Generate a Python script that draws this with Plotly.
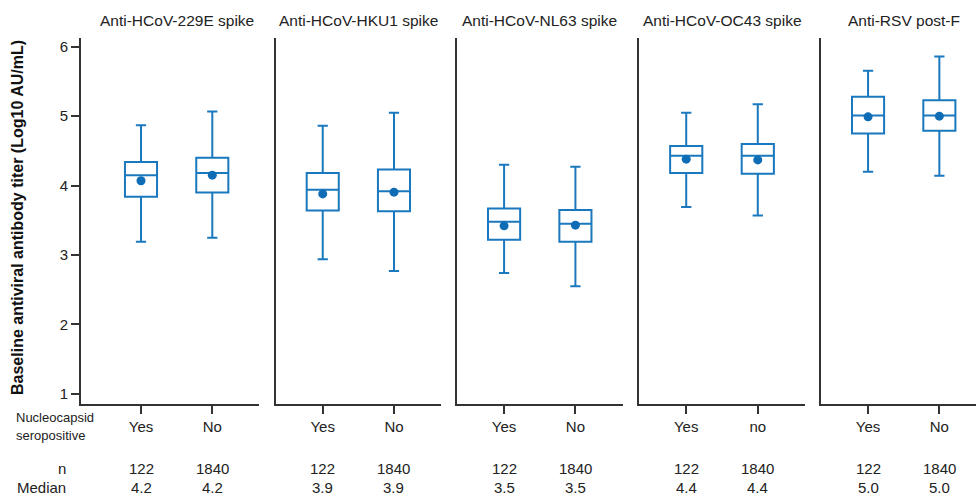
import plotly.graph_objects as go

# ---------------- data ----------------
panel_titles = ["Anti-HCoV-229E spike", "Anti-HCoV-HKU1 spike", "Anti-HCoV-NL63 spike",
                "Anti-HCoV-OC43 spike", "Anti-RSV post-F"]
group_labels = [["Yes", "No"], ["Yes", "No"], ["Yes", "No"], ["Yes", "no"], ["Yes", "No"]]
n_values = ["122", "1840"]
median_labels = [["4.2", "4.2"], ["3.9", "3.9"], ["3.5", "3.5"], ["4.4", "4.4"], ["5.0", "5.0"]]

lower_whisker = [[3.19, 3.25], [2.94, 2.77], [2.74, 2.55], [3.69, 3.57], [4.20, 4.14]]
q1_values     = [[3.84, 3.90], [3.64, 3.63], [3.22, 3.19], [4.18, 4.17], [4.75, 4.79]]
median_values = [[4.15, 4.18], [3.94, 3.92], [3.48, 3.45], [4.43, 4.43], [5.01, 5.01]]
q3_values     = [[4.34, 4.40], [4.18, 4.23], [3.67, 3.65], [4.57, 4.60], [5.28, 5.23]]
upper_whisker = [[4.87, 5.065], [4.86, 5.05], [4.30, 4.27], [5.05, 5.17], [5.655, 5.86]]
mean_values   = [[4.07, 4.15], [3.88, 3.905], [3.42, 3.43], [4.38, 4.37], [4.99, 5.00]]

y_ticks = [1, 2, 3, 4, 5, 6]

# ---------------- layout constants ----------------
W, H = 976, 495
BLUE = "#1a78bf"
DOT = "#0f6db5"
AX = "#333333"
TXT = "#222222"
FONT = "Liberation Sans, Arial, sans-serif"

px_left = [81, 275.7, 457, 639, 821]
px_right = [259, 441, 622.5, 805, 976]
x_ranges = [[-0.8415, 1.655], [-0.66, 1.66], [-0.66, 1.66], [-0.66, 1.66], [-0.66, 1.514]]
y_range = [0.855, 6.125]
y_dom = [1 - 404 / H, 1 - 38 / H]

fig = go.Figure()
layout = dict(
    width=W, height=H, margin=dict(l=0, r=0, t=0, b=0),
    paper_bgcolor="white", plot_bgcolor="white", showlegend=False,
    font=dict(family=FONT, color=TXT, size=15),
)
annotations = []

for i in range(5):
    sfx = "" if i == 0 else str(i + 1)
    xa, ya = "x" + sfx, "y" + sfx
    cats = [0, 1]
    fig.add_trace(go.Box(
        x=cats, q1=q1_values[i], median=median_values[i], q3=q3_values[i],
        lowerfence=lower_whisker[i], upperfence=upper_whisker[i],
        width=0.45, whiskerwidth=0.32, boxpoints=False,
        line=dict(color=BLUE, width=2), fillcolor="rgba(255,255,255,0)",
        xaxis=xa, yaxis=ya, hoverinfo="skip",
    ))
    fig.add_trace(go.Scatter(
        x=cats, y=mean_values[i], mode="markers",
        marker=dict(color=DOT, size=9), xaxis=xa, yaxis=ya, hoverinfo="skip",
    ))
    layout["xaxis" + sfx] = dict(
        domain=[px_left[i] / W, px_right[i] / W], range=x_ranges[i], anchor=ya,
        showgrid=False, zeroline=False, showline=True, linecolor=AX, linewidth=2,
        tickvals=cats, ticktext=group_labels[i], ticks="outside", ticklen=8,
        tickwidth=2, tickcolor=AX, tickfont=dict(size=15, color=TXT), fixedrange=True,
    )
    ydict = dict(
        domain=y_dom, range=y_range, anchor=xa, showgrid=False, zeroline=False,
        showline=True, linecolor=AX, linewidth=2, fixedrange=True,
    )
    if i == 0:
        ydict.update(tickvals=y_ticks, ticks="outside", ticklen=8, tickwidth=2,
                     tickcolor=AX, tickfont=dict(size=15, color=TXT))
    else:
        ydict.update(showticklabels=False, ticks="")
    layout["yaxis" + sfx] = ydict

    annotations.append(dict(text=panel_titles[i], x=0.5, xref=xa, y=1 - 20 / H, yref="paper",
                            showarrow=False, xanchor="center", yanchor="middle",
                            font=dict(size=15.5, color=TXT)))
    for j in range(2):
        annotations.append(dict(text=n_values[j], x=cats[j], xref=xa, y=1 - 468 / H, yref="paper",
                                showarrow=False, xanchor="center", yanchor="middle",
                                font=dict(size=15, color=TXT)))
        annotations.append(dict(text=median_labels[i][j], x=cats[j], xref=xa, y=1 - 487 / H,
                                yref="paper", showarrow=False, xanchor="center",
                                yanchor="middle", font=dict(size=15, color=TXT)))

annotations += [
    dict(text="Nucleocapsid", x=14 / W, y=1 - 417 / H, xref="paper", yref="paper",
         showarrow=False, xanchor="left", yanchor="middle", font=dict(size=13, color=TXT)),
    dict(text="seropositive", x=14 / W, y=1 - 435 / H, xref="paper", yref="paper",
         showarrow=False, xanchor="left", yanchor="middle", font=dict(size=13, color=TXT)),
    dict(text="n", x=68 / W, y=1 - 468 / H, xref="paper", yref="paper",
         showarrow=False, xanchor="right", yanchor="middle", font=dict(size=15, color=TXT)),
    dict(text="Median", x=68 / W, y=1 - 487 / H, xref="paper", yref="paper",
         showarrow=False, xanchor="right", yanchor="middle", font=dict(size=15, color=TXT)),
    dict(text="<b>Baseline antiviral antibody titer (Log10 AU/mL)</b>", x=18 / W,
         y=1 - 218 / H, xref="paper", yref="paper", textangle=-90, showarrow=False,
         xanchor="center", yanchor="middle", font=dict(size=16, color="#111111")),
]
layout["annotations"] = annotations
fig.update_layout(**layout)

fig.write_html("out.html", config={"displayModeBar": False},
               post_script="document.body.style.margin='0';")
